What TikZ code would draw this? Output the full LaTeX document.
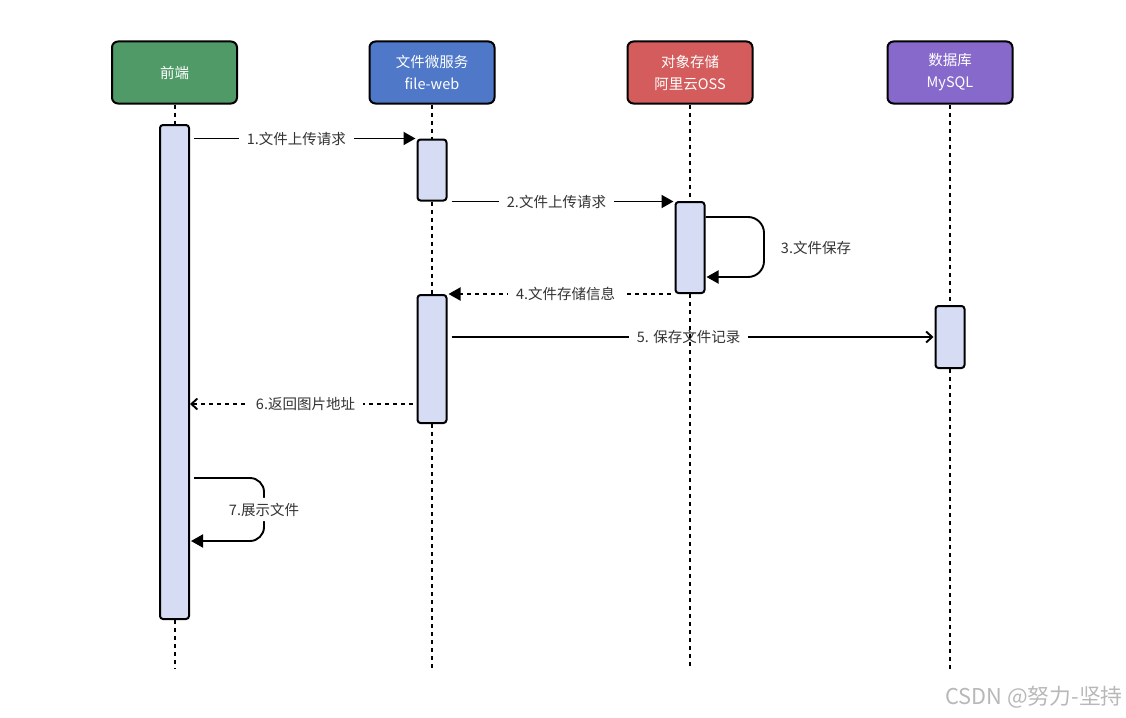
\documentclass[tikz,border=0pt]{standalone}
\usepackage{fontspec}
\setmainfont{Noto Sans CJK SC}
\usetikzlibrary{arrows.meta}
\definecolor{headgreen}{HTML}{4F9A66}
\definecolor{headblue}{HTML}{4F78C8}
\definecolor{headred}{HTML}{D45C5C}
\definecolor{headpurple}{HTML}{8769CC}
\definecolor{barfill}{HTML}{D5DCF4}
\definecolor{labeltext}{HTML}{333333}
\tikzset{
    head/.style={draw=black, line width=2pt, rounded corners=6pt, minimum width=125pt, minimum height=62pt,
        text=white, align=center, font=\fontsize{14.5}{22}\selectfont},
    bar/.style={draw=black, fill=barfill, line width=2pt, rounded corners=3pt, minimum width=29pt, inner sep=0pt},
    life/.style={line width=2pt, dash pattern=on 4pt off 4pt},
    msg/.style={line width=1.9pt, shorten <=4pt, shorten >=1pt, -{Triangle[length=12pt,width=13pt]}},
    ret/.style={msg, dash pattern=on 4pt off 4pt},
    openmsg/.style={-{Straight Barb[length=6pt,width=11pt]}},
    lbl/.style={fill=white, text=labeltext, inner sep=8pt, font=\fontsize{14.5}{16}\selectfont},
}
\begin{document}
\begin{tikzpicture}[x=1pt, y=-1pt]
    \useasboundingbox (0,0) rectangle (1126,717);

    % Heads of the four lifelines
    \node[head, fill=headgreen] (front_head) at (174.5,72.5) {前端};
    \node[head, fill=headblue] (web_head) at (432,72.5) {文件微服务\\file-web};
    \node[head, fill=headred] (oss_head) at (690,72.5) {对象存储\\阿里云OSS};
    \node[head, fill=headpurple] (db_head) at (950,72.5) {数据库\\MySQL};

    % Activation bars
    \node[bar, minimum height=494pt] (front_bar) at (174.5,372) {};
    \node[bar, minimum height=61pt] (web_bar1) at (432,170) {};
    \node[bar, minimum height=128pt] (web_bar2) at (432,359) {};
    \node[bar, minimum height=91pt] (oss_bar) at (690,247.5) {};
    \node[bar, minimum height=62pt] (db_bar) at (950,337) {};

    % Free ends of the lifelines and of the two self calls
    \coordinate (front_end) at (174.5,669);
    \coordinate (web_end) at (432,669);
    \coordinate (oss_end) at (690,669);
    \coordinate (db_end) at (950,669);
    \coordinate (save_top) at (764,217);
    \coordinate (save_bot) at (764,277);
    \coordinate (show_top) at (264,478);
    \coordinate (show_bot) at (264,541);

    % Messages
    \draw[msg] (front_bar.east |- web_bar1.north) -- node[lbl, pos=0.47] {1.文件上传请求} (web_bar1.north west);
    \draw[msg] (web_bar1.south east) -- node[lbl, pos=0.48] {2.文件上传请求} (web_bar1.south east -| oss_bar.west);
    \draw[msg, shorten <=0pt, rounded corners=16pt] (save_top -| oss_bar.east) -- (save_top) -- (save_bot) -- (save_bot -| oss_bar.east);
    \node[text=labeltext, font=\fontsize{14.5}{16}\selectfont] (save_lbl) at (816,247.5) {3.文件保存};
    \draw[ret] (oss_bar.south west) -- node[lbl, pos=0.48] {4.文件存储信息} (oss_bar.south west -| web_bar2.east);
    \draw[msg, openmsg] (web_bar2.east |- db_bar.center) -- node[lbl, pos=0.495] {5. 保存文件记录} (db_bar.west);
    \draw[ret, openmsg, shorten >=0pt] (web_bar2.west |- 0,404) -- node[lbl, pos=0.49] {6.返回图片地址} (front_bar.east |- 0,404);
    \draw[msg, rounded corners=14pt] (show_top -| front_bar.east) -- (show_top) -- node[lbl, inner sep=5pt, inner xsep=3pt, pos=0.5] (show_lbl) {7.展示文件} (show_bot) -- (show_bot -| front_bar.east);

    % Lifelines, split at the bars
    \draw[life] (front_head) -- (front_bar);
    \draw[life] (front_bar) -- (front_end);
    \draw[life] (web_head) -- (web_bar1);
    \draw[life] (web_bar1) -- (web_bar2);
    \draw[life] (web_bar2) -- (web_end);
    \draw[life] (oss_head) -- (oss_bar);
    \draw[life] (oss_bar) -- (oss_end);
    \draw[life] (db_head) -- (db_bar);
    \draw[life] (db_bar) -- (db_end);

    % Watermark
    \node[text=black!28, font=\fontsize{21.8}{24}\selectfont] (mark) at (1034,697) {CSDN @努力-坚持};
\end{tikzpicture}
\end{document}
